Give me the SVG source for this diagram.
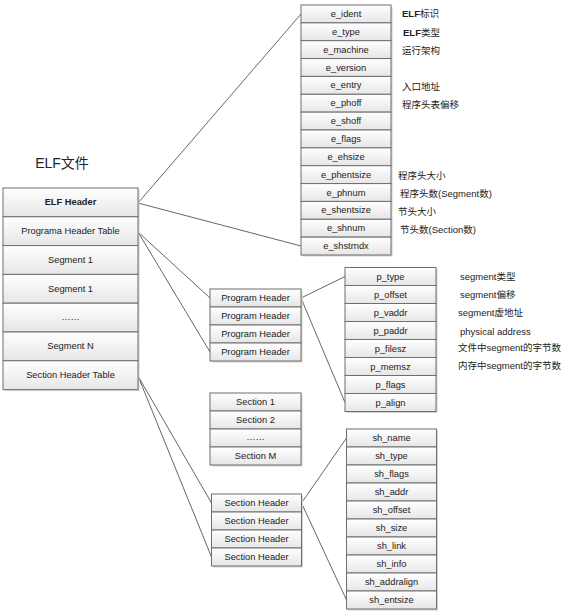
<svg xmlns="http://www.w3.org/2000/svg" width="576" height="614" viewBox="0 0 576 614">
<defs>
<linearGradient id="cell" x1="0" y1="0" x2="0" y2="1">
<stop offset="0" stop-color="#ffffff"/>
<stop offset="1" stop-color="#e6e6e6"/>
</linearGradient>
</defs>
<style>
.c{fill:url(#cell);stroke:#6e6e6e;stroke-width:1}
.sh{fill:#d4d4d4;stroke:none}
.t{font-family:"Liberation Sans","Noto Sans CJK SC",sans-serif;font-size:9.3px;fill:#222;text-anchor:middle;dominant-baseline:central}
.b{font-weight:bold}
.a{font-family:"Liberation Sans","Noto Sans CJK SC",sans-serif;font-size:9.5px;fill:#222;dominant-baseline:central}
.ttl{font-family:"Liberation Sans","Noto Sans CJK SC",sans-serif;font-size:14px;fill:#222;text-anchor:middle}
.ln{stroke:#555;stroke-width:0.9;fill:none}
</style>
<rect width="576" height="614" fill="#ffffff"/>

<text class="ttl" x="62" y="168">ELF文件</text>

<g id="connectors">
<line class="ln" x1="138" y1="203" x2="301" y2="14"/>
<line class="ln" x1="138" y1="203" x2="301" y2="246"/>
<line class="ln" x1="138" y1="232" x2="210" y2="298"/>
<line class="ln" x1="138" y1="232" x2="210" y2="352"/>
<line class="ln" x1="301" y1="298" x2="345" y2="276.5"/>
<line class="ln" x1="301" y1="298" x2="345" y2="402.5"/>
<line class="ln" x1="138" y1="376" x2="211.5" y2="503"/>
<line class="ln" x1="138" y1="376" x2="211.5" y2="557"/>
<line class="ln" x1="301.5" y1="503" x2="346.5" y2="438"/>
<line class="ln" x1="301.5" y1="503" x2="346.5" y2="600"/>
</g>

<g id="elf-file">
<rect class="sh" x="4.5" y="189.5" width="135" height="201.6"/>
<rect class="c" x="3" y="188" width="135" height="28.8"/>
<rect class="c" x="3" y="216.8" width="135" height="28.8"/>
<rect class="c" x="3" y="245.6" width="135" height="28.8"/>
<rect class="c" x="3" y="274.4" width="135" height="28.8"/>
<rect class="c" x="3" y="303.2" width="135" height="28.8"/>
<rect class="c" x="3" y="332" width="135" height="28.8"/>
<rect class="c" x="3" y="360.8" width="135" height="28.8"/>
<text class="t b" x="70.5" y="202.4">ELF Header</text>
<text class="t" x="70.5" y="231.2">Programa Header Table</text>
<text class="t" x="70.5" y="260">Segment 1</text>
<text class="t" x="70.5" y="288.8">Segment 1</text>
<text class="t" x="70.5" y="316.6">……</text>
<text class="t" x="70.5" y="346.4">Segment N</text>
<text class="t" x="70.5" y="375.2">Section Header Table</text>
</g>

<g id="elf-header">
<rect class="sh" x="302.5" y="6.5" width="90" height="250"/>
<rect class="c" x="301" y="5" width="90" height="17.86"/>
<rect class="c" x="301" y="22.86" width="90" height="17.86"/>
<rect class="c" x="301" y="40.71" width="90" height="17.86"/>
<rect class="c" x="301" y="58.57" width="90" height="17.86"/>
<rect class="c" x="301" y="76.43" width="90" height="17.86"/>
<rect class="c" x="301" y="94.29" width="90" height="17.86"/>
<rect class="c" x="301" y="112.14" width="90" height="17.86"/>
<rect class="c" x="301" y="130" width="90" height="17.86"/>
<rect class="c" x="301" y="147.86" width="90" height="17.86"/>
<rect class="c" x="301" y="165.71" width="90" height="17.86"/>
<rect class="c" x="301" y="183.57" width="90" height="17.86"/>
<rect class="c" x="301" y="201.43" width="90" height="17.86"/>
<rect class="c" x="301" y="219.29" width="90" height="17.86"/>
<rect class="c" x="301" y="237.14" width="90" height="17.86"/>
<text class="t" x="346" y="13.9">e_ident</text>
<text class="t" x="346" y="31.8">e_type</text>
<text class="t" x="346" y="49.6">e_machine</text>
<text class="t" x="346" y="67.5">e_version</text>
<text class="t" x="346" y="85.4">e_entry</text>
<text class="t" x="346" y="103.2">e_phoff</text>
<text class="t" x="346" y="121.1">e_shoff</text>
<text class="t" x="346" y="138.9">e_flags</text>
<text class="t" x="346" y="156.8">e_ehsize</text>
<text class="t" x="346" y="174.6">e_phentsize</text>
<text class="t" x="346" y="192.5">e_phnum</text>
<text class="t" x="346" y="210.4">e_shentsize</text>
<text class="t" x="346" y="228.2">e_shnum</text>
<text class="t" x="346" y="246.1">e_shstrndx</text>
</g>

<g id="elf-header-notes">
<text class="a" x="402" y="13"><tspan font-weight="bold">ELF</tspan>标识</text>
<text class="a" x="403" y="32"><tspan font-weight="bold">ELF</tspan>类型</text>
<text class="a" x="402" y="50">运行架构</text>
<text class="a" x="402" y="86">入口地址</text>
<text class="a" x="402" y="104">程序头表偏移</text>
<text class="a" x="398" y="175">程序头大小</text>
<text class="a" x="400" y="193">程序头数(Segment数)</text>
<text class="a" x="398" y="211">节头大小</text>
<text class="a" x="400" y="229">节头数(Section数)</text>
</g>

<g id="program-headers">
<rect class="sh" x="211.5" y="290.5" width="91" height="72"/>
<rect class="c" x="210" y="289" width="91" height="18"/>
<rect class="c" x="210" y="307" width="91" height="18"/>
<rect class="c" x="210" y="325" width="91" height="18"/>
<rect class="c" x="210" y="343" width="91" height="18"/>
<text class="t" x="255.5" y="298">Program Header</text>
<text class="t" x="255.5" y="316">Program Header</text>
<text class="t" x="255.5" y="334">Program Header</text>
<text class="t" x="255.5" y="352">Program Header</text>
</g>

<g id="program-header-fields">
<rect class="sh" x="346.5" y="269" width="91" height="144"/>
<rect class="c" x="345" y="267.5" width="91" height="18"/>
<rect class="c" x="345" y="285.5" width="91" height="18"/>
<rect class="c" x="345" y="303.5" width="91" height="18"/>
<rect class="c" x="345" y="321.5" width="91" height="18"/>
<rect class="c" x="345" y="339.5" width="91" height="18"/>
<rect class="c" x="345" y="357.5" width="91" height="18"/>
<rect class="c" x="345" y="375.5" width="91" height="18"/>
<rect class="c" x="345" y="393.5" width="91" height="18"/>
<text class="t" x="390.5" y="276.5">p_type</text>
<text class="t" x="390.5" y="294.5">p_offset</text>
<text class="t" x="390.5" y="312.5">p_vaddr</text>
<text class="t" x="390.5" y="330.5">p_paddr</text>
<text class="t" x="390.5" y="348.5">p_filesz</text>
<text class="t" x="390.5" y="366.5">p_memsz</text>
<text class="t" x="390.5" y="384.5">p_flags</text>
<text class="t" x="390.5" y="402.5">p_align</text>
</g>

<g id="program-header-notes">
<text class="a" x="460" y="276">segment类型</text>
<text class="a" x="460" y="294">segment偏移</text>
<text class="a" x="458" y="312">segment虚地址</text>
<text class="a" x="460" y="331">physical address</text>
<text class="a" x="458" y="347">文件中segment的字节数</text>
<text class="a" x="458" y="365">内存中segment的字节数</text>
</g>

<g id="sections">
<rect class="sh" x="211.5" y="394.5" width="91" height="72"/>
<rect class="c" x="210" y="393" width="91" height="18"/>
<rect class="c" x="210" y="411" width="91" height="18"/>
<rect class="c" x="210" y="429" width="91" height="18"/>
<rect class="c" x="210" y="447" width="91" height="18"/>
<text class="t" x="255.5" y="402">Section 1</text>
<text class="t" x="255.5" y="420">Section 2</text>
<text class="t" x="255.5" y="437">……</text>
<text class="t" x="255.5" y="456">Section M</text>
</g>

<g id="section-headers">
<rect class="sh" x="213" y="495.5" width="90" height="72"/>
<rect class="c" x="211.5" y="494" width="90" height="18"/>
<rect class="c" x="211.5" y="512" width="90" height="18"/>
<rect class="c" x="211.5" y="530" width="90" height="18"/>
<rect class="c" x="211.5" y="548" width="90" height="18"/>
<text class="t" x="256.5" y="503">Section Header</text>
<text class="t" x="256.5" y="521">Section Header</text>
<text class="t" x="256.5" y="539">Section Header</text>
<text class="t" x="256.5" y="557">Section Header</text>
</g>

<g id="section-header-fields">
<rect class="sh" x="348" y="430.5" width="90" height="180"/>
<rect class="c" x="346.5" y="429" width="90" height="18"/>
<rect class="c" x="346.5" y="447" width="90" height="18"/>
<rect class="c" x="346.5" y="465" width="90" height="18"/>
<rect class="c" x="346.5" y="483" width="90" height="18"/>
<rect class="c" x="346.5" y="501" width="90" height="18"/>
<rect class="c" x="346.5" y="519" width="90" height="18"/>
<rect class="c" x="346.5" y="537" width="90" height="18"/>
<rect class="c" x="346.5" y="555" width="90" height="18"/>
<rect class="c" x="346.5" y="573" width="90" height="18"/>
<rect class="c" x="346.5" y="591" width="90" height="18"/>
<text class="t" x="391.5" y="438">sh_name</text>
<text class="t" x="391.5" y="456">sh_type</text>
<text class="t" x="391.5" y="474">sh_flags</text>
<text class="t" x="391.5" y="492">sh_addr</text>
<text class="t" x="391.5" y="510">sh_offset</text>
<text class="t" x="391.5" y="528">sh_size</text>
<text class="t" x="391.5" y="546">sh_link</text>
<text class="t" x="391.5" y="564">sh_info</text>
<text class="t" x="391.5" y="582">sh_addralign</text>
<text class="t" x="391.5" y="600">sh_entsize</text>
</g>
</svg>
